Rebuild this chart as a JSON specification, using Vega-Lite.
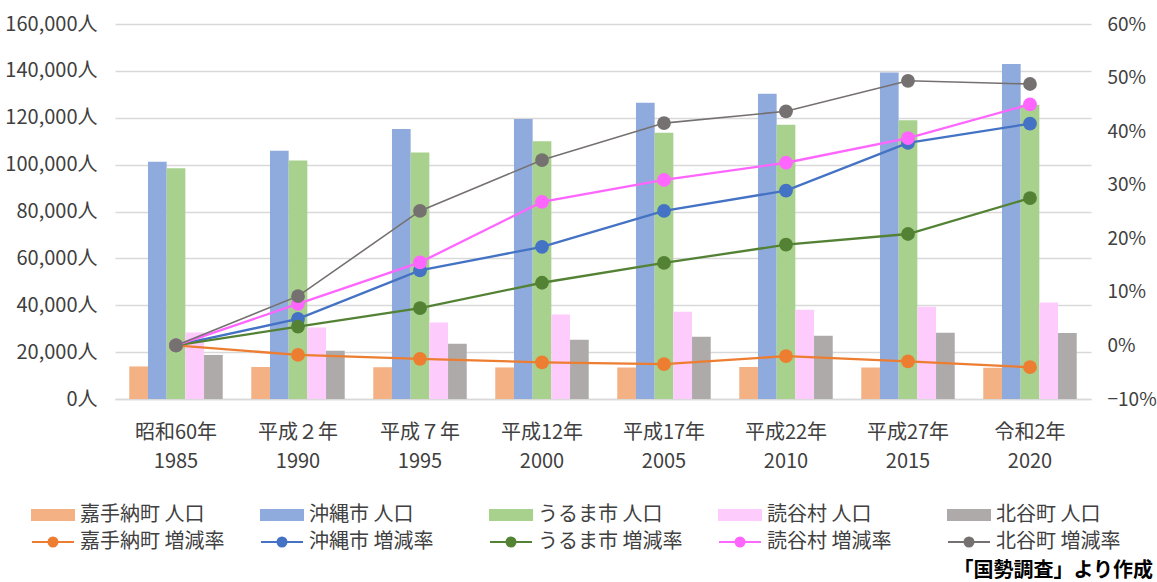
{
  "$schema": "https://vega.github.io/schema/vega-lite/v6.json",
  "width": 976,
  "height": 375,
  "autosize": {"type": "none"},
  "padding": {"left": 115, "top": 24, "right": 66, "bottom": 183},
  "background": "white",
  "config": {
    "font": "Noto Sans CJK JP",
    "view": {"stroke": null},
    "axis": {"labelFont": "Noto Sans CJK JP", "labelFontSize": 20, "labelColor": "#404040", "ticks": false, "tickSize": 0, "domain": false},
    "legend": {"labelFont": "Noto Sans CJK JP"}
  },
  "datasets": {
    "pop": [
      {"cat": "昭和60年|1985", "series": "嘉手納町 人口", "value": 13900},
      {"cat": "昭和60年|1985", "series": "沖縄市 人口", "value": 101200},
      {"cat": "昭和60年|1985", "series": "うるま市 人口", "value": 98500},
      {"cat": "昭和60年|1985", "series": "読谷村 人口", "value": 28400},
      {"cat": "昭和60年|1985", "series": "北谷町 人口", "value": 18800},
      {"cat": "平成２年|1990", "series": "嘉手納町 人口", "value": 13650},
      {"cat": "平成２年|1990", "series": "沖縄市 人口", "value": 105900},
      {"cat": "平成２年|1990", "series": "うるま市 人口", "value": 101750},
      {"cat": "平成２年|1990", "series": "読谷村 人口", "value": 30550},
      {"cat": "平成２年|1990", "series": "北谷町 人口", "value": 20600},
      {"cat": "平成７年|1995", "series": "嘉手納町 人口", "value": 13550},
      {"cat": "平成７年|1995", "series": "沖縄市 人口", "value": 115250},
      {"cat": "平成７年|1995", "series": "うるま市 人口", "value": 105150},
      {"cat": "平成７年|1995", "series": "読谷村 人口", "value": 32670},
      {"cat": "平成７年|1995", "series": "北谷町 人口", "value": 23580},
      {"cat": "平成12年|2000", "series": "嘉手納町 人口", "value": 13460},
      {"cat": "平成12年|2000", "series": "沖縄市 人口", "value": 119500},
      {"cat": "平成12年|2000", "series": "うるま市 人口", "value": 110000},
      {"cat": "平成12年|2000", "series": "読谷村 人口", "value": 36080},
      {"cat": "平成12年|2000", "series": "北谷町 人口", "value": 25300},
      {"cat": "平成17年|2005", "series": "嘉手納町 人口", "value": 13410},
      {"cat": "平成17年|2005", "series": "沖縄市 人口", "value": 126350},
      {"cat": "平成17年|2005", "series": "うるま市 人口", "value": 113550},
      {"cat": "平成17年|2005", "series": "読谷村 人口", "value": 37230},
      {"cat": "平成17年|2005", "series": "北谷町 人口", "value": 26570},
      {"cat": "平成22年|2010", "series": "嘉手納町 人口", "value": 13620},
      {"cat": "平成22年|2010", "series": "沖縄市 人口", "value": 130200},
      {"cat": "平成22年|2010", "series": "うるま市 人口", "value": 116970},
      {"cat": "平成22年|2010", "series": "読谷村 人口", "value": 38080},
      {"cat": "平成22年|2010", "series": "北谷町 人口", "value": 27000},
      {"cat": "平成27年|2015", "series": "嘉手納町 人口", "value": 13490},
      {"cat": "平成27年|2015", "series": "沖縄市 人口", "value": 139280},
      {"cat": "平成27年|2015", "series": "うるま市 人口", "value": 118960},
      {"cat": "平成27年|2015", "series": "読谷村 人口", "value": 39370},
      {"cat": "平成27年|2015", "series": "北谷町 人口", "value": 28280},
      {"cat": "令和2年|2020", "series": "嘉手納町 人口", "value": 13340},
      {"cat": "令和2年|2020", "series": "沖縄市 人口", "value": 142980},
      {"cat": "令和2年|2020", "series": "うるま市 人口", "value": 125500},
      {"cat": "令和2年|2020", "series": "読谷村 人口", "value": 41200},
      {"cat": "令和2年|2020", "series": "北谷町 人口", "value": 28150}
    ],
    "rate": [
      {"cat": "昭和60年|1985", "series": "嘉手納町 増減率", "rate": 0},
      {"cat": "平成２年|1990", "series": "嘉手納町 増減率", "rate": -0.0178},
      {"cat": "平成７年|1995", "series": "嘉手納町 増減率", "rate": -0.025},
      {"cat": "平成12年|2000", "series": "嘉手納町 増減率", "rate": -0.0315},
      {"cat": "平成17年|2005", "series": "嘉手納町 増減率", "rate": -0.035},
      {"cat": "平成22年|2010", "series": "嘉手納町 増減率", "rate": -0.02},
      {"cat": "平成27年|2015", "series": "嘉手納町 増減率", "rate": -0.0296},
      {"cat": "令和2年|2020", "series": "嘉手納町 増減率", "rate": -0.0407},
      {"cat": "昭和60年|1985", "series": "沖縄市 増減率", "rate": 0},
      {"cat": "平成２年|1990", "series": "沖縄市 増減率", "rate": 0.0495},
      {"cat": "平成７年|1995", "series": "沖縄市 増減率", "rate": 0.14},
      {"cat": "平成12年|2000", "series": "沖縄市 増減率", "rate": 0.184},
      {"cat": "平成17年|2005", "series": "沖縄市 増減率", "rate": 0.251},
      {"cat": "平成22年|2010", "series": "沖縄市 増減率", "rate": 0.289},
      {"cat": "平成27年|2015", "series": "沖縄市 増減率", "rate": 0.378},
      {"cat": "令和2年|2020", "series": "沖縄市 増減率", "rate": 0.414},
      {"cat": "昭和60年|1985", "series": "うるま市 増減率", "rate": 0},
      {"cat": "平成２年|1990", "series": "うるま市 増減率", "rate": 0.035},
      {"cat": "平成７年|1995", "series": "うるま市 増減率", "rate": 0.0695},
      {"cat": "平成12年|2000", "series": "うるま市 増減率", "rate": 0.117},
      {"cat": "平成17年|2005", "series": "うるま市 増減率", "rate": 0.154},
      {"cat": "平成22年|2010", "series": "うるま市 増減率", "rate": 0.188},
      {"cat": "平成27年|2015", "series": "うるま市 増減率", "rate": 0.208},
      {"cat": "令和2年|2020", "series": "うるま市 増減率", "rate": 0.275},
      {"cat": "昭和60年|1985", "series": "読谷村 増減率", "rate": 0},
      {"cat": "平成２年|1990", "series": "読谷村 増減率", "rate": 0.0776},
      {"cat": "平成７年|1995", "series": "読谷村 増減率", "rate": 0.155},
      {"cat": "平成12年|2000", "series": "読谷村 増減率", "rate": 0.268},
      {"cat": "平成17年|2005", "series": "読谷村 増減率", "rate": 0.309},
      {"cat": "平成22年|2010", "series": "読谷村 増減率", "rate": 0.341},
      {"cat": "平成27年|2015", "series": "読谷村 増減率", "rate": 0.387},
      {"cat": "令和2年|2020", "series": "読谷村 増減率", "rate": 0.45},
      {"cat": "昭和60年|1985", "series": "北谷町 増減率", "rate": 0},
      {"cat": "平成２年|1990", "series": "北谷町 増減率", "rate": 0.092},
      {"cat": "平成７年|1995", "series": "北谷町 増減率", "rate": 0.251},
      {"cat": "平成12年|2000", "series": "北谷町 増減率", "rate": 0.346},
      {"cat": "平成17年|2005", "series": "北谷町 増減率", "rate": 0.415},
      {"cat": "平成22年|2010", "series": "北谷町 増減率", "rate": 0.437},
      {"cat": "平成27年|2015", "series": "北谷町 増減率", "rate": 0.494},
      {"cat": "令和2年|2020", "series": "北谷町 増減率", "rate": 0.488}
    ]
  },
  "title": {"text": "「国勢調査」より作成", "orient": "bottom", "anchor": "end", "frame": "group", "fontSize": 20, "fontWeight": "bold", "color": "#000000", "font": "Noto Sans CJK JP", "offset": 9, "dx": 62},
  "layer": [
    {
      "data": {"name": "pop"},
      "mark": {"type": "bar"},
      "encoding": {
        "x": {"field": "cat", "type": "nominal", "sort": null,
          "scale": {"paddingInner": 0.234, "paddingOuter": 0.117},
          "axis": {"title": null, "labelExpr": "split(datum.label, '|')", "labelAngle": 0, "labelPadding": 23, "labelLineHeight": 29, "labelBaseline": "top", "domain": true, "domainColor": "#d9d9d9", "domainWidth": 1.3}},
        "xOffset": {"field": "series", "type": "nominal", "sort": null, "scale": {"paddingInner": 0, "paddingOuter": 0}},
        "y": {"field": "value", "type": "quantitative",
          "scale": {"domain": [0, 160000], "nice": false},
          "axis": {"title": null, "values": [0, 20000, 40000, 60000, 80000, 100000, 120000, 140000, 160000], "labelExpr": "format(datum.value, ',') + '人'", "grid": true, "gridColor": "#d9d9d9", "gridWidth": 1.3, "labelPadding": 18}},
        "color": {"field": "series", "type": "nominal",
          "scale": {
            "domain": ["嘉手納町 人口", "沖縄市 人口", "うるま市 人口", "読谷村 人口", "北谷町 人口", "嘉手納町 増減率", "沖縄市 増減率", "うるま市 増減率", "読谷村 増減率", "北谷町 増減率"],
            "range": ["#F4B183", "#8FAADC", "#A9D18E", "#FDCBFC", "#AEAAAA", "#ED7D31", "#4472C4", "#548235", "#FF66FF", "#767171"]
          },
          "legend": {
            "orient": "none", "legendX": -84, "legendY": 481, "direction": "horizontal", "columns": 5, "title": null,
            "symbolSize": 324, "labelFontSize": 20, "labelOffset": 29, "columnPadding": 32, "rowPadding": 7, "gridAlign": "all", "padding": 0,
            "labelColor": "#404040", "labelLimit": 300,
            "encode": {"symbols": {"update": {
              "shape": {"signal": "indexof(datum.label, '人口') >= 0 ? 'M-1,-0.556H3.667V0.556H-1Z' : 'M-1,0H3.667M0.833,0A0.5,0.5,0,1,1,1.833,0A0.5,0.5,0,1,1,0.833,0Z'"},
              "fill": {"signal": "scale('color', datum.value)"},
              "stroke": {"signal": "indexof(datum.label, '人口') >= 0 ? 'transparent' : scale('color', datum.value)"},
              "strokeWidth": {"value": 2},
              "opacity": {"value": 1},
              "fillOpacity": {"value": 1}
            }}}
          }
        }
      }
    },
    {
      "data": {"name": "rate"},
      "encoding": {
        "x": {"field": "cat", "type": "nominal", "sort": null},
        "y": {"field": "rate", "type": "quantitative",
          "scale": {"domain": [-0.1, 0.6], "nice": false},
          "axis": {"orient": "right", "title": null, "values": [-0.1, 0, 0.1, 0.2, 0.3, 0.4, 0.5, 0.6], "format": ".0%", "grid": false, "labelPadding": 16, "labelFontSize": 19}},
        "color": {"field": "series", "type": "nominal"}
      },
      "layer": [
        {"mark": {"type": "line"},
         "encoding": {"strokeWidth": {"condition": {"test": "datum.series === '北谷町 増減率'", "value": 1.6}, "value": 2.3}}},
        {"mark": {"type": "point", "shape": "circle", "filled": true, "size": 190, "opacity": 1}}
      ]
    }
  ],
  "resolve": {"scale": {"y": "independent"}}
}
